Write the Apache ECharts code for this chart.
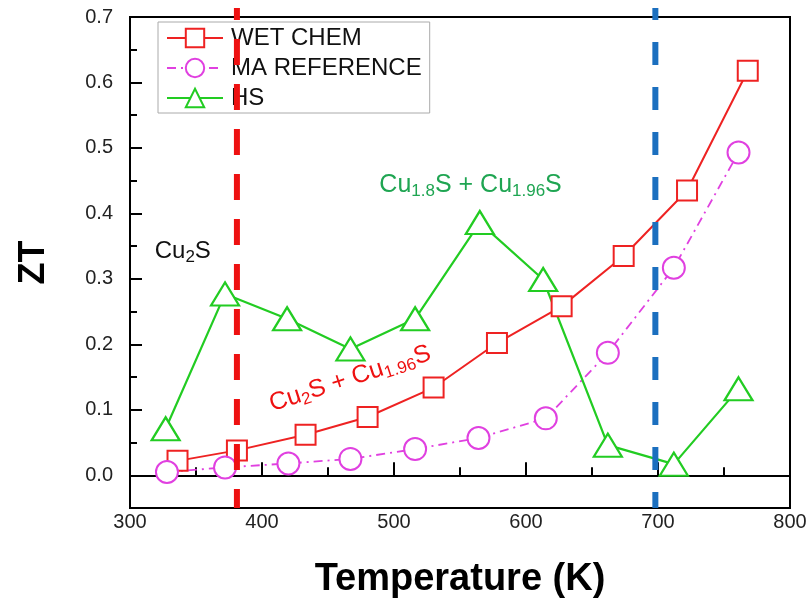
<!DOCTYPE html>
<html>
<head>
<meta charset="utf-8">
<script src="https://cdn.jsdelivr.net/npm/echarts@6/dist/echarts.min.js"></script>
<style>html,body{margin:0;padding:0;background:#fff}#c{width:810px;height:600px}</style>
</head>
<body>
<div id="c"></div>
<script>
// ---- data ----
var seriesNames = ['WET CHEM', 'MA REFERENCE', 'HS'];
var tempWet = [336, 381, 433, 480, 530, 578, 627, 674, 722, 768];
var ztWet   = [0.022, 0.038, 0.062, 0.089, 0.134, 0.202, 0.258, 0.335, 0.435, 0.618];
var tempMa  = [328, 372, 420, 467, 516, 564, 615, 662, 712, 761];
var ztMa    = [0.005, 0.012, 0.018, 0.025, 0.040, 0.057, 0.087, 0.187, 0.317, 0.493];
var tempHs  = [327, 372, 419, 467, 516, 565, 613, 662, 712, 761];
var ztHs    = [0.071, 0.277, 0.239, 0.193, 0.239, 0.386, 0.299, 0.046, 0.017, 0.132];
var phaseBoundaries = [381, 698];
var yLabelValues = [0, 0.1, 0.2, 0.3, 0.4, 0.5, 0.6, 0.7];
var yMinorValues = [0.05, 0.15, 0.25, 0.35, 0.45, 0.55, 0.65];
var xTitle = 'Temperature (K)';
var yTitle = 'ZT';

function pairs(xs, ys) { return xs.map(function (x, i) { return [x, ys[i]]; }); }

var FONT = 'Liberation Sans, Arial, sans-serif';
var RED = '#ee2222', MAG = '#e040e0', GRN = '#22cc22';

var richBase = function (color, size, sub) {
  return {
    n: { fontSize: size, color: color, fontFamily: FONT, lineHeight: size + 2, verticalAlign: 'top' },
    s: { fontSize: sub, color: color, fontFamily: FONT, lineHeight: sub - 2, verticalAlign: 'bottom' }
  };
};

var chart = echarts.init(document.getElementById('c'), null, { renderer: 'canvas' });
chart.setOption({
  animation: false,
  backgroundColor: '#fff',
  textStyle: { fontFamily: FONT },
  grid: { left: 130, right: 20, top: 17, bottom: 92, containLabel: false, outerBoundsMode: 'none',
    show: true, borderColor: '#000', borderWidth: 2, backgroundColor: 'transparent' },
  legend: {
    orient: 'vertical', left: 158, top: 22, padding: [4, 8, 3, 8], itemGap: 6,
    itemWidth: 56, itemHeight: 23,
    borderColor: '#aaa', borderWidth: 1, backgroundColor: '#fff',
    textStyle: { fontSize: 24, color: '#111', fontFamily: FONT, padding: [0, 0, 0, 3] },
    data: seriesNames
  },
  xAxis: {
    type: 'value', min: 300, max: 800, interval: 100,
    name: xTitle, nameLocation: 'middle', nameGap: 53,
    nameTextStyle: { fontSize: 38, fontWeight: 'bold', color: '#000', fontFamily: FONT },
    axisLine: { lineStyle: { color: '#000', width: 2 } },
    axisTick: { inside: true, length: 13, lineStyle: { color: '#000', width: 2 } },
    minorTick: { show: true, splitNumber: 2, length: 8, lineStyle: { color: '#000', width: 2 } },
    axisLabel: { fontSize: 20, color: '#222', margin: 4, fontFamily: FONT },
    splitLine: { show: false }
  },
  yAxis: [{
    type: 'value', min: -0.05, max: 0.7,
    name: yTitle, nameLocation: 'middle', nameGap: 78, nameRotate: 90,
    nameTextStyle: { fontSize: 36, fontWeight: 'bold', color: '#000', fontFamily: FONT },
    axisLine: { lineStyle: { color: '#000', width: 2 } },
    axisTick: { inside: true, length: 12, customValues: yLabelValues, lineStyle: { color: '#000', width: 2 } },
    axisLabel: { fontSize: 20, color: '#222', margin: 17, fontFamily: FONT, customValues: yLabelValues,
      formatter: function (v) { return v.toFixed(1); } },
    splitLine: { show: false }
  }, {
    type: 'value', min: -0.05, max: 0.7, position: 'left', offset: 0,
    axisLine: { show: false },
    axisTick: { inside: true, length: 7, customValues: yMinorValues, lineStyle: { color: '#000', width: 2 } },
    axisLabel: { show: false },
    splitLine: { show: false }
  }],
  series: [
    {
      name: seriesNames[0], type: 'line', data: pairs(tempWet, ztWet),
      symbol: 'rect', symbolSize: 20, z: 3,
      lineStyle: { color: RED, width: 2 },
      itemStyle: { color: '#fff', borderColor: RED, borderWidth: 2 }
    },
    {
      name: seriesNames[1], type: 'line', data: pairs(tempMa, ztMa),
      symbol: 'circle', symbolSize: 22, z: 3,
      lineStyle: { color: MAG, width: 1.8, type: [9, 5, 2, 5] },
      itemStyle: { color: '#fff', borderColor: MAG, borderWidth: 2 }
    },
    {
      name: seriesNames[2], type: 'line', data: pairs(tempHs, ztHs),
      symbol: 'triangle', symbolSize: [28, 23], z: 3,
      lineStyle: { color: GRN, width: 2.2 },
      itemStyle: { color: '#fff', borderColor: GRN, borderWidth: 2.2 }
    },
    {
      name: 'annotations', type: 'line', data: [], z: 4, silent: true,
      markPoint: {
        symbol: 'circle', symbolSize: 1, itemStyle: { color: 'transparent' }, silent: true,
        data: [
          { coord: [340, 0.340], label: { show: true, position: 'inside', formatter: '{n|Cu}{s|2}{n|S}', rich: richBase('#111', 24, 17) } },
          { coord: [558, 0.441], label: { show: true, position: 'inside', formatter: '{n|Cu}{s|1.8}{n|S + Cu}{s|1.96}{n|S}', rich: richBase('#1fa552', 25, 17) } },
          { coord: [467, 0.146], label: { show: true, position: 'inside', rotate: 18, formatter: '{n|Cu}{s|2}{n|S + Cu}{s|1.96}{n|S}', rich: richBase('#ee1111', 25, 17) } }
        ]
      }
    }
  ]
});

// phase-boundary dashed lines, positioned through the chart's own scales
var yBottom = chart.convertToPixel({ yAxisIndex: 0 }, -0.05);
var yTop = chart.convertToPixel({ yAxisIndex: 0 }, 0.7) - 9;
var boundaryColors = ['#ee1111', '#1b6fbf'];
var boundaryDash = [[26, 19], [23, 22]];
var boundaryDashOffset = [14, 11];
chart.setOption({
  graphic: phaseBoundaries.map(function (t, i) {
    var x = chart.convertToPixel({ xAxisIndex: 0 }, t);
    return {
      type: 'line', z: 100, silent: true,
      shape: { x1: x, y1: yTop, x2: x, y2: yBottom },
      style: { stroke: boundaryColors[i], lineWidth: 6, lineDash: boundaryDash[i], lineDashOffset: boundaryDashOffset[i] }
    };
  })
});
</script>
</body>
</html>
